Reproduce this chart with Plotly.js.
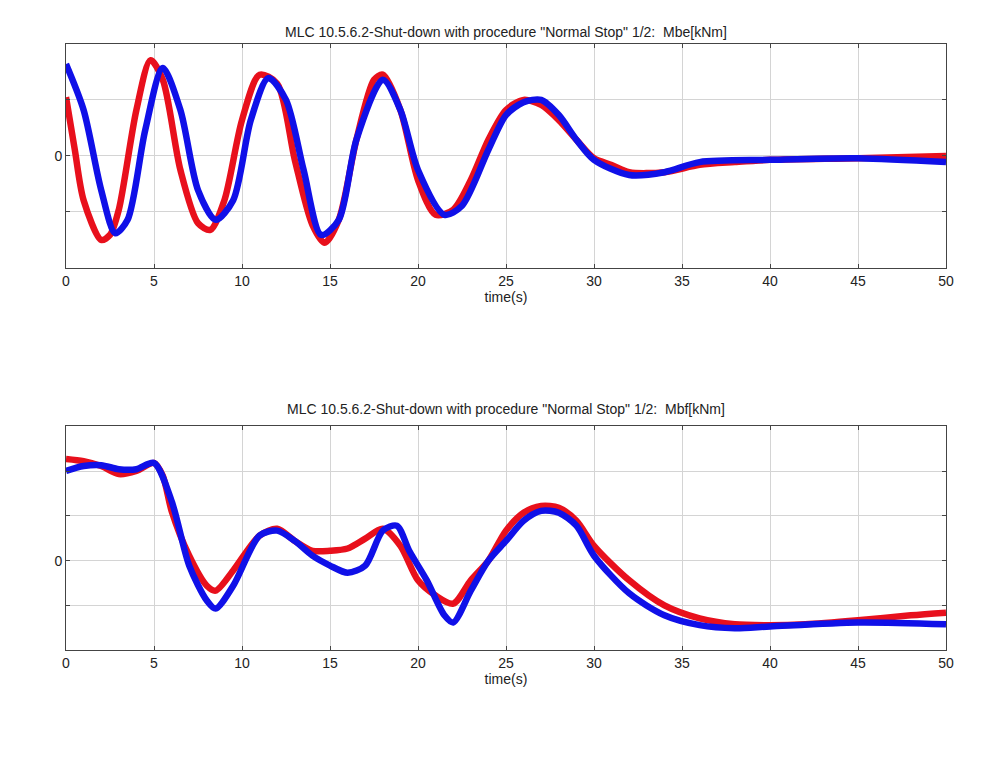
<!DOCTYPE html>
<html>
<head>
<meta charset="utf-8">
<script src="https://cdn.plot.ly/plotly-3.0.1.min.js"></script>
<style>body{margin:0;background:#fff}#chart{width:1000px;height:757px}</style>
</head>
<body>
<div id="chart"></div>
<script>
// Mbe (top panel)
var mbeRedT = [0,0.5,1,2,2.5,3,4,4.8,5.5,6.5,7.5,8.2,9,10,11,12,13,14,14.7,15.5,16.5,17.5,18,19,20,21,22,23,24,25,26,27,28,29,30,31,32,34,36,38,40,45,50];
var mbeRedY = [1.05,0.11,-0.79,-1.5,-1.41,-0.96,0.82,1.71,1.36,-0.25,-1.2,-1.32,-0.79,0.64,1.45,1.29,-0.07,-1.23,-1.55,-1.14,0.29,1.36,1.45,0.82,-0.43,-1.05,-0.96,-0.43,0.29,0.82,1.0,0.91,0.64,0.29,-0.04,-0.16,-0.29,-0.29,-0.16,-0.11,-0.07,-0.04,0];
var mbeBlueT = [0,1,2,2.8,3.5,4.5,5.5,6.5,7.5,8.5,9.5,10.5,11.5,12.5,13.5,14.5,15.5,16.5,18,19,20,21.5,22.5,24,25,26,27,28,29,30,32,34,36,40,45,50];
var mbeBlueY = [1.64,0.82,-0.61,-1.38,-1.14,0.46,1.57,0.82,-0.61,-1.14,-0.79,0.64,1.39,1.0,-0.25,-1.41,-1.14,0.29,1.36,0.82,-0.25,-1.05,-0.89,0.11,0.73,0.96,1.0,0.73,0.29,-0.07,-0.34,-0.29,-0.11,-0.07,-0.04,-0.11];

// Mbf (bottom panel)
var mbfRedT = [0,1,2,3,4,5,5.5,6,7,8,8.5,9.5,11,12,13,14,15,16,17,18,19,20,21,22,23,24,25,26,27,28,29,30,32,34,36,38,40,42,45,48,50];
var mbfRedY = [2.27,2.22,2.11,1.93,2.0,2.18,1.89,1.11,0.11,-0.56,-0.67,-0.22,0.56,0.71,0.44,0.22,0.22,0.27,0.49,0.71,0.33,-0.44,-0.78,-0.96,-0.44,0,0.67,1.07,1.22,1.18,0.89,0.33,-0.44,-1.0,-1.29,-1.42,-1.44,-1.42,-1.33,-1.22,-1.16];
var mbfBlueT = [0,1,2,3,4,5,6,7,8,8.5,9.5,11,12,13,14,15,16,17,18,18.8,19.5,20.5,21.5,22,23,24,25,26,27,28,29,30,32,34,36,38,40,45,50];
var mbfBlueY = [2.0,2.11,2.13,2.04,2.04,2.18,1.33,-0.11,-0.89,-1.07,-0.56,0.56,0.67,0.44,0.11,-0.11,-0.27,-0.11,0.67,0.78,0.22,-0.44,-1.22,-1.38,-0.67,0,0.44,0.89,1.11,1.07,0.78,0.11,-0.73,-1.22,-1.44,-1.51,-1.47,-1.38,-1.42];

var xTicks = [0,5,10,15,20,25,30,35,40,45,50];

function line(x, y, color, xa, ya) {
    return {x: x, y: y, xaxis: xa, yaxis: ya, mode: 'lines', type: 'scatter',
        line: {color: color, width: 6.5, shape: 'spline', smoothing: 0.8}, hoverinfo: 'skip'};
}

var data = [
    line(mbeRedT, mbeRedY, '#e8101c', 'x', 'y'),
    line(mbeBlueT, mbeBlueY, '#1010e8', 'x', 'y'),
    line(mbfRedT, mbfRedY, '#e8101c', 'x2', 'y2'),
    line(mbfBlueT, mbfBlueY, '#1010e8', 'x2', 'y2')
];

function xaxis(anchor) {
    return {domain: [0.066, 0.946], anchor: anchor, range: [0, 50], tickvals: xTicks,
        showgrid: true, gridcolor: '#d4d4d4', zeroline: false, showline: true, mirror: 'ticks',
        linecolor: '#444', ticks: 'inside', ticklen: 4, tickcolor: '#444',
        tickfont: {size: 14, color: '#222'},
        title: {text: 'time(s)', font: {size: 14, color: '#222'}, standoff: 2}};
}
function yaxis(anchor, dom, rng, vals) {
    return {domain: dom, anchor: anchor, range: rng, tickvals: vals,
        ticktext: vals.map(function (v) { return v === 0 ? '0' : ''; }),
        showgrid: true, gridcolor: '#d4d4d4', zeroline: false, showline: true, mirror: 'ticks',
        linecolor: '#444', ticks: 'inside', ticklen: 4, tickcolor: '#444',
        tickfont: {size: 14, color: '#222'}};
}

var layout = {
    width: 1000, height: 757, showlegend: false,
    paper_bgcolor: '#fff', plot_bgcolor: '#fff',
    margin: {l: 0, r: 0, t: 0, b: 0},
    font: {family: 'Liberation Sans, Arial, sans-serif'},
    xaxis: xaxis('y'),
    yaxis: yaxis('x', [0.646, 0.942], [-2, 2], [-1, 0, 1]),
    xaxis2: xaxis('y2'),
    yaxis2: yaxis('x2', [0.141, 0.437], [-2, 3], [-1, 0, 1, 2]),
    annotations: [
        {text: 'MLC 10.5.6.2-Shut-down with procedure "Normal Stop" 1/2:  Mbe[kNm]', xref: 'paper', yref: 'paper',
            x: 0.506, y: 1 - 22 / 757, showarrow: false, font: {size: 14, color: '#222'}},
        {text: 'MLC 10.5.6.2-Shut-down with procedure "Normal Stop" 1/2:  Mbf[kNm]', xref: 'paper', yref: 'paper',
            x: 0.506, y: 1 - 409 / 757, showarrow: false, font: {size: 14, color: '#222'}}
    ]
};

Plotly.newPlot('chart', data, layout, {staticPlot: true});
</script>
</body>
</html>
